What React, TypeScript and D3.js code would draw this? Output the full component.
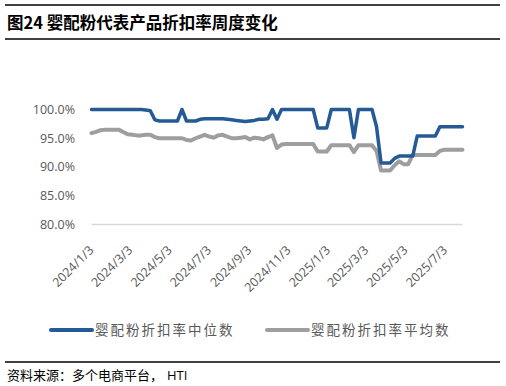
import * as d3 from "d3";

const startDate = "2024-01-03";
// weekly discount rate, %
const medianRate = [
  100, 100, 100, 100, 100, 100, 100, 100, 100, 100, 100, 100, 99.9, 99.8, 98.2,
  98.0, 98.0, 98.0, 98.0, 98.0, 100, 98.0, 98.0, 98.0, 98.3, 98.4, 98.4, 98.4,
  98.4, 98.4, 98.3, 98.2, 98.1, 98.0, 97.9, 98.0, 98.1, 98.3, 98.3, 98.4, 100,
  98.3, 100, 100, 100, 100, 100, 100, 100, 100, 96.8, 96.8, 96.8, 100, 100, 100,
  100, 100, 95.1, 100, 100, 100, 100, 97.0, 90.7, 90.7, 90.7, 91.5, 91.9, 91.9,
  91.9, 91.9, 95.4, 95.4, 95.4, 95.4, 95.4, 97.0, 97.0, 97.0, 97.0, 97.0, 97.0,
];
const meanRate = [
  95.9, 96.1, 96.4, 96.5, 96.5, 96.5, 96.5, 96.1, 95.7, 95.6, 95.5, 95.5, 95.6,
  95.6, 95.2, 95.0, 95.0, 95.0, 95.0, 95.0, 95.0, 94.7, 94.6, 95.0, 95.3, 95.6,
  95.3, 95.1, 95.5, 95.6, 95.3, 95.0, 95.0, 95.1, 95.2, 94.8, 95.1, 95.0, 94.8,
  95.2, 95.5, 93.3, 93.9, 94.0, 94.0, 94.0, 94.0, 94.0, 94.0, 94.0, 92.7, 92.7,
  92.7, 93.8, 93.8, 93.8, 93.8, 93.8, 92.6, 93.8, 93.8, 93.8, 93.8, 92.8, 89.4,
  89.4, 89.4, 90.3, 91.0, 90.5, 90.5, 92.1, 92.1, 92.1, 92.1, 92.1, 92.1, 92.8,
  93.0, 93.0, 93.0, 93.0, 93.0,
];
const yTicks = [80, 85, 90, 95, 100];
const xTickLabels = [
  "2024/1/3", "2024/3/3", "2024/5/3", "2024/7/3", "2024/9/3",
  "2024/11/3", "2025/1/3", "2025/3/3", "2025/5/3", "2025/7/3",
];
const seriesNames = ["婴配粉折扣率中位数", "婴配粉折扣率平均数"];

const BLUE = "#245A95";
const GREY = "#9E9E9E";
const TXT = "#595959";

export default function App() {
  const start = d3.timeParse("%Y-%m-%d")(startDate) as Date;
  const dates = medianRate.map((_, i) => d3.timeDay.offset(start, 7 * i));
  const parseTick = d3.timeParse("%Y/%m/%d");

  const x = d3
    .scaleTime()
    .domain([dates[0], dates[dates.length - 1]])
    .range([91.5, 462.5]);
  const y = d3.scaleLinear().domain([80, 100]).range([224.5, 109.5]);

  const line = d3
    .line<number>()
    .x((_, i) => x(dates[i]))
    .y((d) => y(d))
    .curve(d3.curveLinear);

  const font = "'Open Sans', 'Liberation Sans', sans-serif";
  const cjk = "'Noto Sans CJK SC', sans-serif";

  return (
    <svg
      width={506}
      height={386}
      style={{ position: "absolute", left: 0, top: 0, background: "#fff" }}
    >
      {/* header */}
      <line x1={5} x2={500} y1={5} y2={5} stroke="#000" strokeWidth={1.3} />
      <text x={7} y={29} fontFamily={cjk} fontSize={16.5} fontWeight={700} fill="#000">
        图24 婴配粉代表产品折扣率周度变化
      </text>
      <line x1={5} x2={500} y1={39} y2={39} stroke="#000" strokeWidth={1.3} />

      {/* axis line */}
      <line x1={91.5} x2={462.5} y1={y(80)} y2={y(80)} stroke="#D9D9D9" strokeWidth={1.3} />

      {yTicks.map((t) => (
        <text
          key={t}
          x={75}
          y={y(t)}
          dy="0.35em"
          textAnchor="end"
          fontFamily={font}
          fontSize={12.5}
          fill={TXT}
        >
          {d3.format(".1f")(t)}%
        </text>
      ))}

      {xTickLabels.map((lbl) => {
        const px = x(parseTick(lbl) as Date) + 3;
        const py = 251;
        return (
          <text
            key={lbl}
            x={px}
            y={py}
            textAnchor="end"
            transform={`rotate(-45 ${px} ${py})`}
            fontFamily={font}
            fontSize={12.5}
            fill={TXT}
          >
            {lbl}
          </text>
        );
      })}

      <path
        d={line(meanRate) || ""}
        fill="none"
        stroke={GREY}
        strokeWidth={4}
        strokeLinejoin="round"
        strokeLinecap="round"
      />
      <path
        d={line(medianRate) || ""}
        fill="none"
        stroke={BLUE}
        strokeWidth={3.5}
        strokeLinejoin="round"
        strokeLinecap="round"
      />

      {/* legend */}
      {seriesNames.map((name, i) => {
        const lx = i === 0 ? 51 : 267;
        return (
          <g key={name}>
            <line
              x1={lx}
              x2={lx + 41}
              y1={330}
              y2={330}
              stroke={i === 0 ? BLUE : GREY}
              strokeWidth={4}
              strokeLinecap="round"
            />
            <text
              x={lx + 44}
              y={330}
              dy="0.36em"
              fontFamily={cjk}
              fontSize={13.5}
              letterSpacing={2}
              fill={TXT}
            >
              {name}
            </text>
          </g>
        );
      })}

      {/* footer */}
      <line x1={5} x2={500} y1={362} y2={362} stroke="#000" strokeWidth={1.3} />
      <text x={7} y={380} fontFamily={cjk} fontSize={13} fill="#000">
        资料来源：多个电商平台，
        <tspan fontFamily={font} dx={4}>HTI</tspan>
      </text>
    </svg>
  );
}
